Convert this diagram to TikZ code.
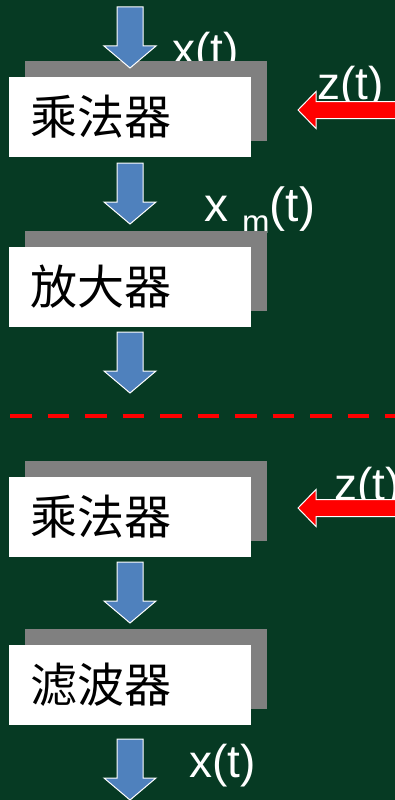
\documentclass[tikz,border=0pt]{standalone}
\usepackage{fontspec}
\setmainfont{Liberation Sans}
\newfontfamily\cjk{Noto Sans CJK SC}
\usetikzlibrary{shadows}
\definecolor{bg}{RGB}{6,58,35}
\definecolor{blueA}{RGB}{79,129,189}
\definecolor{shadowgray}{RGB}{128,128,128}
\definecolor{redA}{RGB}{255,0,0}
\tikzset{
  blockbox/.style={fill=white, inner xsep=21pt, inner ysep=0pt, text width=200pt,
    minimum height=80pt, align=left, font=\cjk\fontsize{47}{50}\selectfont, text=black,
    drop shadow={shadow xshift=16pt, shadow yshift=16pt, fill=shadowgray, opacity=1}},
  siglabel/.style={text=white, inner sep=0pt, anchor=base west, font=\fontsize{46}{50}\selectfont},
  darrow/.pic={\filldraw[fill=blueA, draw=white, line width=1pt]
    (-13,0) -- (13,0) -- (13,39) -- (26,39) -- (0,61) -- (-26,39) -- (-13,39) -- cycle;},
  larrow/.pic={\filldraw[fill=redA, draw=white, line width=1pt]
    (0,0) -- (18,-18.5) -- (18,-8.5) -- (110,-8.5) -- (110,8.5) -- (18,8.5) -- (18,18.5) -- cycle;},
  sepline/.style={draw=redA, line width=4.5pt, dash pattern=on 21.5pt off 16pt}
}
\begin{document}
\begin{tikzpicture}[x=1pt, y=-1pt]
\useasboundingbox (0,0) rectangle (395,800);
\clip (0,0) rectangle (395,800);
\fill[bg] (0,0) rectangle (395,800);

% labels (drawn below boxes and red arrows)
\node[siglabel] (lx1) at (172,66) {x(t)};
\node[siglabel] (lz1) at (317,99) {z(t)};
\node[siglabel] (lxm) at (204,221) {\fontsize{48}{50}\selectfont x\hspace{14pt}\raisebox{-12pt}{\fontsize{33}{36}\selectfont m}(t)};
\node[siglabel] (lz2) at (334,500) {z(t)};
\node[siglabel] (lx2) at (189,777) {x(t)};

% boxes
\node[blockbox] (mul1) at (130,117) {乘法器};
\node[blockbox] (amp) at (130,286.5) {放大器};
\node[blockbox] (mul2) at (130,517) {乘法器};
\node[blockbox] (flt) at (130,684.5) {滤波器};

% blue block arrows
\pic at (130,7) {darrow};
\pic at (130,163) {darrow};
\pic at (130,332) {darrow};
\pic at (130,562) {darrow};
\pic at (130,739) {darrow};

% red carrier arrows
\pic at (298,110) {larrow};
\pic at (298,508) {larrow};

% separator
\coordinate (s1) at (10,416);
\coordinate (s2) at (400,416);
\draw[sepline] (s1) -- (s2);
\end{tikzpicture}
\end{document}
